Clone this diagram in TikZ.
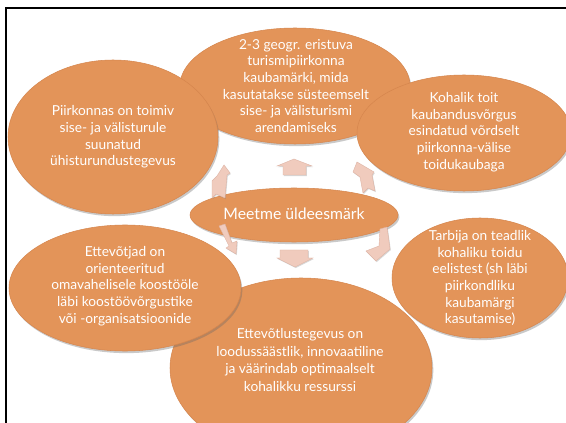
\documentclass[tikz,border=0pt]{standalone}
\usepackage{fontspec}
\setmainfont{Lato}
\usetikzlibrary{shapes.geometric,shadows}
\definecolor{orfill}{RGB}{227,148,89}
\definecolor{oredge}{RGB}{214,134,78}
\definecolor{arrfill}{RGB}{240,203,189}
\definecolor{arredge}{RGB}{222,180,165}
\tikzset{
  bubble/.style={ellipse, fill=orfill, draw=oredge, line width=0.4pt, inner sep=0pt,
    drop shadow={shadow xshift=1pt, shadow yshift=-1.6pt, opacity=0.35, fill=black!60}},
  btext/.style={text=white, align=center, font=\fontsize{10.3}{12.5}\selectfont, inner sep=0pt},
  blockarrow/.style={fill=arrfill, draw=arredge, line width=0.3pt,
    drop shadow={shadow xshift=0.6pt, shadow yshift=-0.8pt, opacity=0.3, fill=black!50}}
}
\begin{document}
\begin{tikzpicture}[x=0.75pt,y=-0.75pt]
\useasboundingbox (0,0) rectangle (566,423);
\fill[white] (0,0) rectangle (566,423);
% frame
\draw[line width=1.6pt, black] (566,8) -- (6,8) -- (6,423);
% ellipses
\node[bubble, minimum width=172.5pt, minimum height=87pt] (top) at (295,86) {};
\node[bubble, minimum width=196.5pt, minimum height=135pt] (bot) at (301,368) {};
\node[bubble, minimum width=157.5pt, minimum height=115.5pt] (lt) at (113,137) {};
\node[bubble, minimum width=160.5pt, minimum height=87pt] (rt) at (464,133) {};
\node[bubble, minimum width=174pt, minimum height=94.5pt] (lb) at (125,288) {};
\node[bubble, minimum width=132pt, minimum height=90pt] (rb) at (480,278) {};
\node[bubble, minimum width=156pt, minimum height=40.5pt] (ctr) at (294,215) {};
% texts
\node[btext] (ttop) at (296,86) {2-3 geogr. eristuva\\turismipiirkonna\\kaubamärki, mida\\kasutatakse süsteemselt\\sise- ja välisturismi\\arendamiseks};
\node[btext] (tlt) at (113,137) {Piirkonnas on toimiv\\sise- ja välisturule\\suunatud\\ühisturundustegevus};
\node[btext] (trt) at (464,132) {Kohalik toit\\kaubandusvõrgus\\esindatud võrdselt\\piirkonna-välise\\toidukaubaga};
\node[btext, font=\fontsize{11.8}{14}\selectfont] (tctr) at (294,214) {Meetme üldeesmärk};
\node[btext] (tlb) at (125,286) {Ettevõtjad on\\orienteeritud\\omavahelisele koostööle\\läbi koostöövõrgustike\\või -organisatsioonide};
\node[btext] (trb) at (480,278) {Tarbija on teadlik\\kohaliku toidu\\eelistest (sh läbi\\piirkondliku\\kaubamärgi\\kasutamise)};
\node[btext, font=\fontsize{10.3}{13.4}\selectfont] (tbot) at (300,360) {Ettevõtlustegevus on\\loodussäästlik, innovaatiline\\ja väärindab optimaalselt\\kohalikku ressurssi};
% block arrows
\filldraw[blockarrow] (294,159) -- (312,166) -- (306,166) -- (306,175) -- (283,175) -- (283,166) -- (277,166) -- cycle;
\filldraw[blockarrow] (280,250) -- (308,250) -- (308,258) -- (313,258) -- (295,267) -- (277,258) -- (280,258) -- cycle;
\filldraw[blockarrow] (224,165) -- (230,173) -- (227,175) -- (225,198) -- (216,194) -- (212,198) -- (212,181) -- (217,176) -- cycle;
\filldraw[blockarrow] (357,162) -- (374,172) -- (372,175) -- (375,191) -- (368,188) -- (363,193) -- (360,177) -- (353,172) -- cycle;
\filldraw[blockarrow] (219,226) -- (225,224) -- (232,243) -- (237,241) -- (236,254) -- (226,248) -- (229,246) -- cycle;
\filldraw[blockarrow] (380,229) -- (387,227) -- (390,249) -- (376,261) -- (366,251) -- (379,246) -- cycle;
\end{tikzpicture}
\end{document}
